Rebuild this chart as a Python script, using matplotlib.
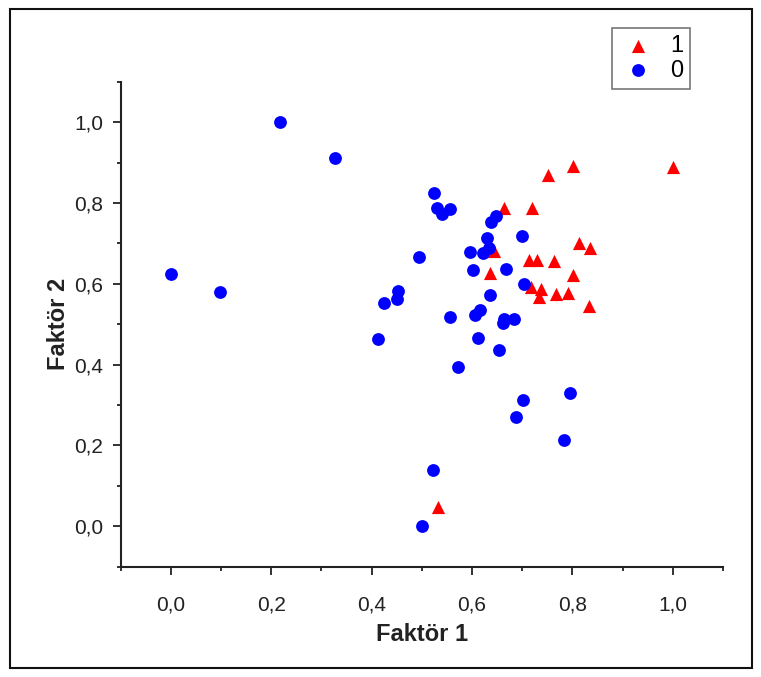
import matplotlib
matplotlib.use("Agg")
from matplotlib import pyplot as plt
from matplotlib.patches import Rectangle

plt.rcParams['font.family'] = ['Liberation Sans', 'DejaVu Sans']

# group 1 (red triangles)
x1 = [1.0, 0.802, 0.752, 0.664, 0.719, 0.814, 0.836, 0.643, 0.714, 0.729,
      0.763, 0.635, 0.801, 0.717, 0.738, 0.734, 0.767, 0.792, 0.834, 0.532]
y1 = [0.888, 0.891, 0.869, 0.787, 0.788, 0.702, 0.688, 0.682, 0.660, 0.659,
      0.657, 0.626, 0.622, 0.591, 0.588, 0.567, 0.575, 0.576, 0.546, 0.047]

# group 0 (blue circles)
x0 = [0.0, 0.098, 0.217, 0.327, 0.412, 0.424, 0.452, 0.450, 0.494, 0.500,
      0.522, 0.524, 0.530, 0.540, 0.556, 0.647, 0.637, 0.699, 0.630, 0.634,
      0.622, 0.596, 0.602, 0.667, 0.703, 0.635, 0.556, 0.607, 0.616, 0.664,
      0.661, 0.684, 0.612, 0.654, 0.572, 0.702, 0.687, 0.795, 0.783]
y0 = [0.625, 0.580, 1.000, 0.910, 0.464, 0.553, 0.583, 0.563, 0.667, 0.000,
      0.139, 0.825, 0.787, 0.772, 0.784, 0.767, 0.754, 0.718, 0.714, 0.689,
      0.676, 0.679, 0.634, 0.637, 0.599, 0.572, 0.519, 0.522, 0.535, 0.513,
      0.502, 0.513, 0.467, 0.436, 0.393, 0.312, 0.271, 0.329, 0.213]

ticks = [0.0, 0.2, 0.4, 0.6, 0.8, 1.0]
tick_labels = ["0,0", "0,2", "0,4", "0,6", "0,8", "1,0"]

W, H = 761, 677


def main():
    fig = plt.figure(figsize=(W / 100, H / 100), dpi=100)
    ax = fig.add_axes([120.5 / W, 1 - 566.7 / H, (723 - 120.5) / W, (566.7 - 81.7) / H])

    ax.scatter(x1, y1, marker='^', s=90, color='#ff0000', linewidths=0, label='1', zorder=3)
    ax.scatter(x0, y0, marker='o', s=85, color='#0000ff', linewidths=0, label='0', zorder=4)

    ax.set_xlim(-0.1, 1.1)
    ax.set_ylim(-0.1, 1.1)
    ax.set_xticks(ticks, tick_labels)
    ax.set_yticks(ticks, tick_labels)
    ax.set_xticks([-0.1, 0.1, 0.3, 0.5, 0.7, 0.9, 1.1], minor=True)
    ax.set_yticks([-0.1, 0.1, 0.3, 0.5, 0.7, 0.9, 1.1], minor=True)

    for side in ['top', 'right']:
        ax.spines[side].set_visible(False)
    for side in ['left', 'bottom']:
        ax.spines[side].set_linewidth(1.5)
        ax.spines[side].set_color('#222222')

    ax.tick_params(which='major', direction='out', length=5.5, width=1.3, color='#222222',
                   labelsize=15, labelcolor='#222222')
    ax.tick_params(which='minor', direction='out', length=3, width=1.3, color='#222222')
    ax.tick_params(axis='x', which='major', pad=15)
    ax.tick_params(axis='y', which='major', pad=7)

    ax.set_xlabel("Faktör 1", fontsize=17, fontweight='bold', labelpad=6, color='#222222')
    ax.set_ylabel("Faktör 2", fontsize=17, fontweight='bold', labelpad=3, color='#222222')

    leg = fig.legend(loc='upper left', bbox_to_anchor=(612 / W, 1 - 28 / H),
                     fontsize=17, fancybox=False, borderaxespad=0, handletextpad=0.55,
                     labelspacing=0.1, borderpad=0.3, handlelength=1.6,
                     handleheight=0.8)
    leg.get_frame().set_edgecolor('#555555')
    leg.get_frame().set_linewidth(1.2)

    fig.patches.append(Rectangle((10 / W, 9 / H), (752 - 10) / W, (668 - 9) / H,
                                 transform=fig.transFigure, fill=False, lw=1.5,
                                 ec='#111111'))

    fig.savefig("out.png", dpi=100)
    plt.close(fig)


if __name__ == "__main__":
    main()
